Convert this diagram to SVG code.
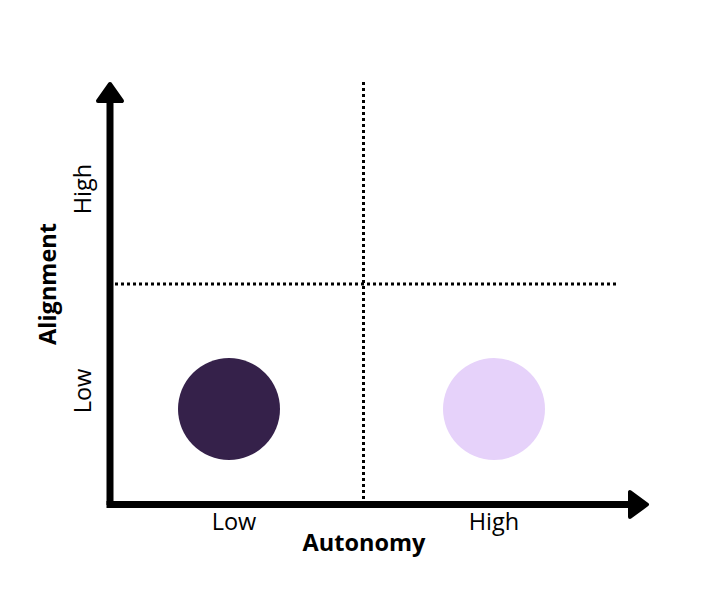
<svg xmlns="http://www.w3.org/2000/svg" width="720" height="603" viewBox="0 0 720 603">
<style>
.lbl{font-family:"Open Sans","Liberation Sans",sans-serif;font-size:23.5px;fill:#000}
.ttl{font-family:"Open Sans","Liberation Sans",sans-serif;font-size:23.5px;font-weight:bold;fill:#000}
.dot{stroke:#000;stroke-width:3;stroke-dasharray:3 3;fill:none}
.axis{stroke:#000;stroke-width:7;fill:none}
.head{fill:#000;stroke:#000;stroke-width:4;stroke-linejoin:round}
</style>
<rect width="720" height="603" fill="#fff"/>
<g id="connectors">
<line class="dot" x1="363.5" y1="82" x2="363.5" y2="500"/>
<line class="dot" x1="115" y1="284" x2="616" y2="284"/>
<line class="axis" x1="110" y1="98" x2="110" y2="505"/>
<line class="axis" x1="106.5" y1="504.5" x2="632" y2="504.5"/>
<polygon class="head" points="110,84 122,101 98,101"/>
<polygon class="head" points="647,504.5 630,492 630,517"/>
</g>
<g id="low-low"><circle cx="229" cy="409" r="51" fill="#35214a"/></g>
<g id="high-low"><circle cx="494" cy="409" r="51" fill="#e6d2fa"/></g>
<g id="labels">
<text class="lbl" x="234" y="530" text-anchor="middle">Low</text>
<text class="lbl" x="494" y="530" text-anchor="middle">High</text>
<text class="ttl" x="364" y="551" text-anchor="middle">Autonomy</text>
<text class="ttl" transform="translate(56,284) rotate(-90)" text-anchor="middle">Alignment</text>
<text class="lbl" transform="translate(91,189) rotate(-90)" text-anchor="middle">High</text>
<text class="lbl" transform="translate(91,391) rotate(-90)" text-anchor="middle">Low</text>
</g>
</svg>
